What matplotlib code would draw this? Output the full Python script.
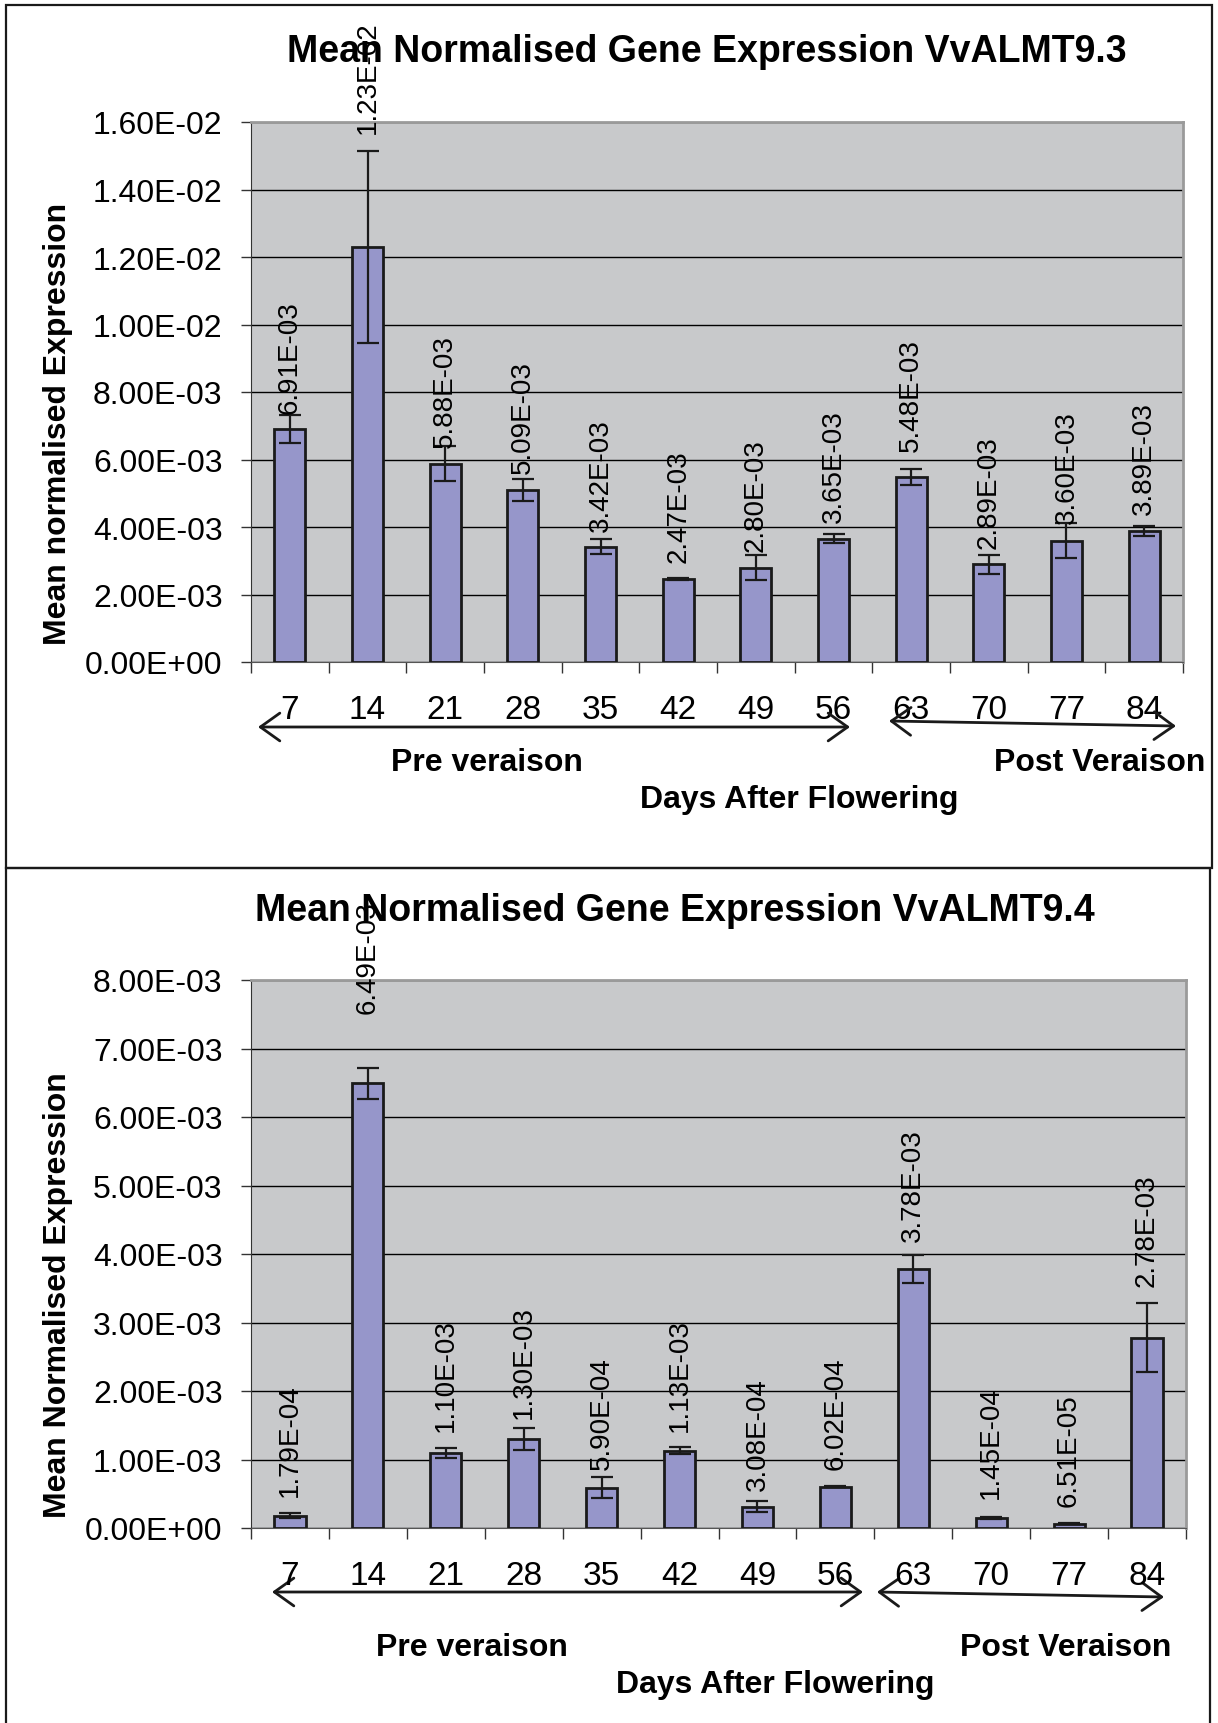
import numpy as np
import matplotlib
matplotlib.use('Agg')
import matplotlib.pyplot as plt
from matplotlib.patches import Rectangle

plt.rcParams['font.family'] = ['Liberation Sans', 'DejaVu Sans']

### Data ###
days = ['7', '14', '21', '28', '35', '42', '49', '56', '63', '70', '77', '84']

alm93 = [6.91e-3, 1.23e-2, 5.88e-3, 5.09e-3, 3.42e-3, 2.47e-3,
         2.80e-3, 3.65e-3, 5.48e-3, 2.89e-3, 3.60e-3, 3.89e-3]
alm93_err = [4.2e-4, 2.85e-3, 5.2e-4, 3.3e-4, 2.2e-4, 3e-5,
             3.8e-4, 1.3e-4, 2.4e-4, 2.7e-4, 5.2e-4, 1.5e-4]

alm94 = [1.79e-4, 6.49e-3, 1.10e-3, 1.30e-3, 5.90e-4, 1.13e-3,
         3.08e-4, 6.02e-4, 3.78e-3, 1.45e-4, 6.51e-5, 2.78e-3]
alm94_err = [4e-5, 2.3e-4, 7.5e-5, 1.6e-4, 1.5e-4, 5e-5,
             8e-5, 5e-6, 2.1e-4, 1e-5, 1e-5, 5e-4]

### Style ###
W, H = 1218, 1724
barcol = '#9696CA'
bgcol = '#C8C9CB'
dark = '#1a1a1a'

# label offsets above bar top (pixels), as placed in the original
off93 = [16, 114, 17, 17, 16, 17, 16, 17, 26, 16, 17, 17]
off94 = [20, 70, 22, 21, 19, 20, 17, 18, 28, 20, 18, 52]

fig = plt.figure(figsize=(W / 100, H / 100), dpi=100)


def fx(px):
    return px / W


def fy(py):
    return 1 - py / H


def panel(rect, vals, errs, ymax, ystep, offs):
    ax = fig.add_axes(rect)
    ax.set_facecolor(bgcol)
    x = np.arange(len(vals))
    ax.bar(x, vals, width=0.4, color=barcol, edgecolor=dark, linewidth=2, zorder=3)
    ax.errorbar(x, vals, yerr=errs, fmt='none', ecolor=dark, elinewidth=1.6,
                capsize=8, capthick=1.6, zorder=4)
    ax.set_xlim(-0.5, len(vals) - 0.5)
    ax.set_ylim(0, ymax)
    yt = np.arange(0, ymax + ystep / 2, ystep)
    ax.set_yticks(yt)
    ax.set_yticklabels(['{:.2E}'.format(v) for v in yt], fontsize=23)
    ax.set_xticks(x)
    ax.set_xticklabels(days, fontsize=24)
    ax.set_xticks(np.arange(-0.5, len(vals)), minor=True)
    ax.tick_params(axis='x', which='major', length=0, pad=23)
    ax.tick_params(axis='x', which='minor', length=8, width=1, direction='out', color='#333333')
    ax.tick_params(axis='y', length=7.5, width=1, pad=13, color='#333333')
    ax.grid(axis='y', color='black', linewidth=1, zorder=1)
    ax.set_axisbelow(True)
    ax.spines['left'].set_color('#333333')
    ax.spines['bottom'].set_color('#555555')
    for s in ('top', 'right'):
        ax.spines[s].set_color('#9a9a9a')
        ax.spines[s].set_linewidth(2)
    for i, v in enumerate(vals):
        ax.annotate('{:.2E}'.format(v), xy=(i, v), xytext=(0, offs[i]),
                    textcoords='offset pixels', rotation=90, ha='center',
                    va='bottom', fontsize=20, annotation_clip=False, zorder=5)
    return ax


ax1 = panel([fx(251), fy(663), fx(1183) - fx(251), fy(123) - fy(663)],
            alm93, alm93_err, 0.016, 0.002, off93)
ax2 = panel([fx(251), fy(1529), fx(1186) - fx(251), fy(981) - fy(1529)],
            alm94, alm94_err, 0.008, 0.001, off94)

# titles and axis labels
fig.text(fx(707), fy(52), 'Mean Normalised Gene Expression VvALMT9.3',
         fontsize=27, fontweight='bold', ha='center', va='center')
fig.text(fx(675), fy(911), 'Mean Normalised Gene Expression VvALMT9.4',
         fontsize=27, fontweight='bold', ha='center', va='center')
fig.text(fx(58), fy(424), 'Mean normalised Expression', rotation=90,
         fontsize=23, fontweight='bold', ha='center', va='center')
fig.text(fx(58), fy(1295), 'Mean Normalised Expression', rotation=90,
         fontsize=23, fontweight='bold', ha='center', va='center')

for (px, py), s in zip([(487, 763), (1100, 763), (799, 800)],
                       ['Pre veraison', 'Post Veraison', 'Days After Flowering']):
    fig.text(fx(px), fy(py), s, fontsize=23, fontweight='bold', ha='center', va='center')
for (px, py), s in zip([(472, 1648), (1066, 1648), (775, 1685)],
                       ['Pre veraison', 'Post Veraison', 'Days After Flowering']):
    fig.text(fx(px), fy(py), s, fontsize=23, fontweight='bold', ha='center', va='center')

# double-headed arrows for the stages
arrows = [((258, 728), (850, 728)), ((889, 722), (1176, 727)),
          ((272, 1593), (863, 1593)), ((877, 1593), (1164, 1598))]
for (x0, y0), (x1, y1) in arrows:
    ax1.annotate('', xy=(x1, H - y1), xytext=(x0, H - y0), xycoords='figure pixels',
                 textcoords='figure pixels', annotation_clip=False,
                 arrowprops=dict(arrowstyle='<->,head_length=0.7,head_width=0.5',
                                 mutation_scale=20, lw=2, color=dark,
                                 shrinkA=0, shrinkB=0))

# panel borders
fig.patches.append(Rectangle((fx(6), fy(869)), fx(1212) - fx(6), fy(6) - fy(869),
                             transform=fig.transFigure, fill=False, lw=1.6, ec=dark))
fig.patches.append(Rectangle((fx(6), fy(1740)), fx(1210) - fx(6), fy(869) - fy(1740),
                             transform=fig.transFigure, fill=False, lw=1.6, ec=dark,
                             clip_on=False))

fig.savefig('out.png', dpi=100)
